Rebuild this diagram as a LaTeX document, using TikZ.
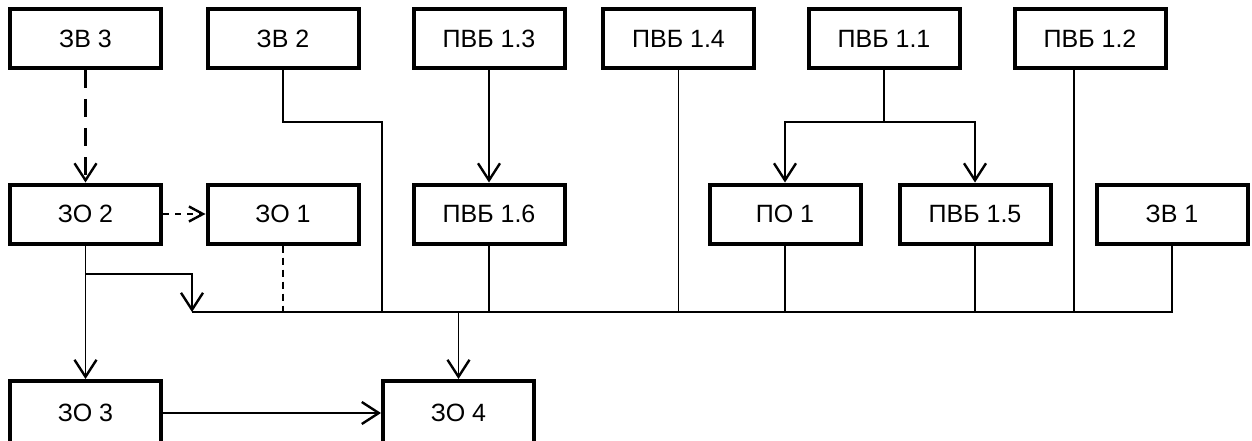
\documentclass[tikz,border=0pt]{standalone}
\usepackage{fontspec}
\setmainfont{Liberation Sans}
\usetikzlibrary{arrows.meta}

\tikzset{
  blk/.style={draw, line width=4pt, minimum width=151pt, minimum height=59pt,
    inner sep=0pt, font=\fontsize{25}{29}\selectfont},
  lowblk/.style={blk, minimum height=66pt},
  wire/.style={line width=1.9pt},
  tip/.style={-{Straight Barb[length=17pt,width=22pt,line width=2.4pt]}},
  arr/.style={wire, tip},
  sarr/.style={-{Straight Barb[length=14pt,width=15pt,line width=2.4pt]}},
  longdash/.style={line width=2.5pt, dash pattern=on 18pt off 11pt},
  shortdash/.style={line width=1.9pt, dash pattern=on 7pt off 5pt},
}

\begin{document}
\begin{tikzpicture}[x=1pt, y=-1pt]
\useasboundingbox (0,0) rectangle (1252,441);

% top row
\node[blk] (zv3)   at (85.5,38.5)  {ЗВ 3};
\node[blk] (zv2)   at (283,38.5)   {ЗВ 2};
\node[blk] (pvb13) at (489,38.5)   {ПВБ 1.3};
\node[blk] (pvb14) at (678.5,38.5) {ПВБ 1.4};
\node[blk] (pvb11) at (884,38.5)   {ПВБ 1.1};
\node[blk] (pvb12) at (1090,38.5)  {ПВБ 1.2};

% middle row
\node[blk] (zo2)   at (85.5,214)  {ЗО 2};
\node[blk] (zo1)   at (283,214)   {ЗО 1};
\node[blk] (pvb16) at (489,214)   {ПВБ 1.6};
\node[blk] (po1)   at (785,214)   {ПО 1};
\node[blk] (pvb15) at (975,214)   {ПВБ 1.5};
\node[blk] (zv1)   at (1172,214)  {ЗВ 1};

% bottom row (runs past the lower edge)
\node[lowblk] (zo3) at (85.5,414)  {\raisebox{3pt}{ЗО 3}};
\node[lowblk] (zo4) at (458.5,414) {\raisebox{3pt}{ЗО 4}};

% common bus
\coordinate (busL) at (192,312);
\coordinate (j2)   at (382,122);
\coordinate (fork) at (884,122);
\coordinate (br)   at (85.5,274);
\coordinate (tap)  at ([xshift=-16pt]pvb12.south);

\draw[wire] (zv1.south) |- (busL);

% feeds into the bus
\draw[wire] (zv2.south) |- (j2) -- (j2 |- busL);
\draw[wire] (pvb14.south) -- (pvb14.south |- busL);
\draw[wire] (tap) -- (tap |- busL);
\draw[wire] (pvb16.south) -- (pvb16.south |- busL);
\draw[wire] (po1.south) -- (po1.south |- busL);
\draw[wire] (pvb15.south) -- (pvb15.south |- busL);
\draw[shortdash] (zo1.south) -- ([yshift=-5pt]zo1.south |- busL);

% ПВБ 1.1 fork
\draw[wire] (pvb11.south) -- (fork);
\draw[arr] (fork) -| (po1.north);
\draw[arr] (fork) -| (pvb15.north);

% ПВБ 1.3 -> ПВБ 1.6
\draw[arr] (pvb13.south) -- (pvb16.north);

% ЗВ 3 -> ЗО 2 (dashed)
\draw[longdash, tip] (zv3.south) -- (zo2.north);

% ЗО 2 -> ЗО 1 (dashed)
\draw[line width=2.2pt, dash pattern=on 6pt off 6pt, sarr] (zo2.east) -- (zo1.west);

% ЗО 2 outputs
\draw[arr] (zo2.south) -- (zo3.north);
\draw[arr] (br) -| (busL);

% bus -> ЗО 4, ЗО 3 -> ЗО 4
\draw[arr] (zo4.north |- busL) -- (zo4.north);
\draw[arr] ([yshift=1pt]zo3.east) -- ([yshift=1pt]zo4.west);
\end{tikzpicture}
\end{document}
